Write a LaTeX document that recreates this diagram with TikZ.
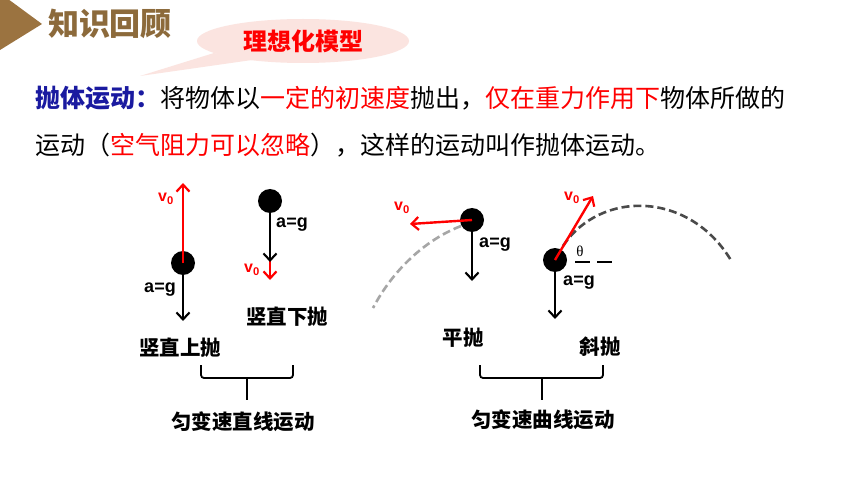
\documentclass[tikz,border=0pt]{standalone}
\usepackage{fontspec}
\usetikzlibrary{arrows.meta,shapes.geometric}
\newfontfamily\cjk{Noto Sans CJK SC}
\newfontfamily\lat{Liberation Sans}
\newfontfamily\serifgr{Liberation Serif}
\definecolor{brownA}{HTML}{9B7340}
\definecolor{brownT}{HTML}{8C6A3B}
\definecolor{bubble}{HTML}{FBE4E0}
\definecolor{blueT}{HTML}{1A1AA0}
\definecolor{redT}{HTML}{FF0000}
\definecolor{dashg}{HTML}{4A4A4A}
\tikzset{
  ball/.style={circle,fill=black,minimum size=24pt,inner sep=0pt},
  velo/.style={draw=redT,line width=2.4pt,-{Straight Barb[length=7pt,width=13pt,line width=2.2pt]}},
  accel/.style={draw=black,line width=2.1pt,-{Straight Barb[length=7pt,width=13pt,line width=2.1pt]}},
  vlab/.style={text=redT,font=\lat\bfseries\fontsize{16}{17}\selectfont,inner sep=0pt},
  alab/.style={text=black,font=\lat\bfseries\fontsize{18}{20}\selectfont,inner sep=0pt},
  kindlab/.style={font=\cjk\bfseries\fontsize{20.5}{22}\selectfont,inner sep=0pt},
  grouplab/.style={font=\cjk\bfseries\fontsize{20.5}{22}\selectfont,inner sep=0pt},
  bodytext/.style={font=\cjk\fontsize{25}{28}\selectfont,inner sep=0pt,anchor=west},
  trackline/.style={draw=dashg,line width=2.6pt,dash pattern=on 8pt off 4pt},
  braceline/.style={draw=black,line width=1.8pt,rounded corners=3pt},
}
\begin{document}
\begin{tikzpicture}[x=1pt,y=-1pt]
\useasboundingbox (0,0) rectangle (860,484);
\fill[white] (0,0) rectangle (860,484);
% header
\fill[brownA] (0,-1) -- (8,-1) -- (42,24) -- (0,50) -- cycle;
\node[text=brownT,font=\cjk\bfseries\fontsize{31}{34}\selectfont,inner sep=0pt] (title) at (110,24) {知识回顾};
% bubble
\fill[bubble] (214,53) -- (140,76) -- (252,60) -- cycle;
\node[ellipse,fill=bubble,minimum width=212pt,minimum height=44pt,inner sep=0pt] (bub) at (303,41) {};
\node[text=redT,font=\cjk\bfseries\fontsize{24}{26}\selectfont,inner sep=0pt] (ideal) at (bub.center) {理想化模型};
% body text
\node[bodytext] (line1) at (35,98) {\textcolor{blueT}{\bfseries 抛体运动：}将物体以\textcolor{redT}{一定的初速度}抛出，\textcolor{redT}{仅在重力作用下}物体所做的};
\node[bodytext] (line2) at (35,145) {运动（\textcolor{redT}{空气阻力可以忽略}），这样的运动叫作抛体运动。};
% vertical up
\node[ball] (b1) at (183,263) {};
\coordinate (v1) at (183,183);
\coordinate (a1) at (183,321);
\draw[velo] (b1.center) -- (v1);
\draw[accel] (b1.south) -- (a1);
\node[vlab] (v1l) at (166,199) {v\textsubscript{0}};
\node[alab] (a1l) at (160,290) {a=g};
\node[kindlab] (n1) at (180,348) {竖直上抛};
% vertical down
\node[ball] (b2) at (270,201) {};
\coordinate (a2) at (270,262);
\coordinate (v2) at (270,280);
\coordinate (v2s) at (270,255);
\draw[velo] (v2s) -- (v2);
\draw[accel] (b2.center) -- (a2);
\node[alab] (a2l) at (292,225) {a=g};
\node[vlab] (v2l) at (252,270) {v\textsubscript{0}};
\node[kindlab] (n2) at (287,317) {竖直下抛};
% horizontal
\draw[trackline,draw=gray!70] (461,226) .. controls (425,240) and (393,270) .. (373,308);
\node[ball] (b3) at (472,220) {};
\coordinate (v3) at (410,224);
\coordinate (a3) at (472,281);
\draw[velo] (b3.center) -- (v3);
\draw[accel] (b3.south) -- (a3);
\node[vlab] (v3l) at (402,208) {v\textsubscript{0}};
\node[alab] (a3l) at (495,245) {a=g};
\node[kindlab] (n3) at (463,338) {平抛};
% oblique
\draw[trackline] (563,246) .. controls (600,190) and (690,190) .. (732,262);
\node[ball] (b4) at (555,260) {};
\coordinate (v4) at (593,196);
\coordinate (a4) at (555,319);
\coordinate (h1) at (575,262);
\coordinate (h2) at (613,262);
\draw[velo] (b4.center) -- (v4);
\draw[accel] (b4.south) -- (a4);
\draw[black,line width=1.8pt,dash pattern=on 15pt off 7pt] (h1) -- (h2);
\node[vlab] (v4l) at (572,198) {v\textsubscript{0}};
\node[font=\serifgr\fontsize{15}{16}\selectfont,inner sep=0pt] (th) at (580,251) {θ};
\node[alab] (a4l) at (579,283) {a=g};
\node[kindlab] (n4) at (600,347) {斜抛};
% braces
\coordinate (bl1) at (201,365);
\coordinate (br1) at (293,365);
\coordinate (bm1) at (247,378);
\coordinate (bt1) at (247,400);
\draw[braceline] (bl1) -- (201,378) -- (293,378) -- (br1);
\draw[braceline] (bm1) -- (bt1);
\node[grouplab] (g1) at (243,422) {匀变速直线运动};
\coordinate (bl2) at (480,365);
\coordinate (br2) at (603,365);
\coordinate (bm2) at (542,378);
\coordinate (bt2) at (542,400);
\draw[braceline] (bl2) -- (480,378) -- (603,378) -- (br2);
\draw[braceline] (bm2) -- (bt2);
\node[grouplab] (g2) at (543,420) {匀变速曲线运动};
\end{tikzpicture}
\end{document}
